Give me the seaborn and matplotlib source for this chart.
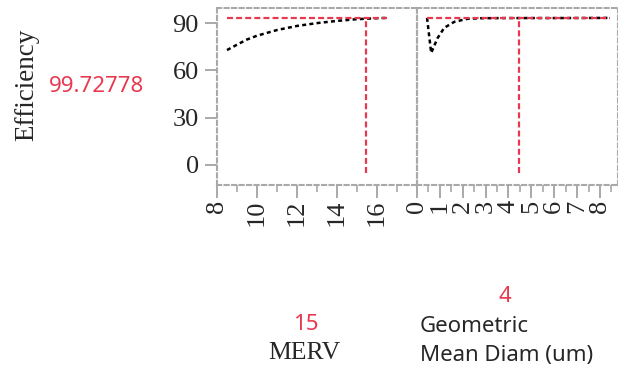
import matplotlib
matplotlib.use("Agg")
import matplotlib.pyplot as plt
from matplotlib.ticker import MultipleLocator
import seaborn as sns
import numpy as np

# ---- data ----
merv = [8.5, 9.0, 9.5, 10.0, 11.0, 12.0, 13.0, 14.0, 15.0, 16.0, 16.5]
eff_merv = [72.9, 76.3, 79.6, 82.0, 85.6, 88.2, 90.0, 91.4, 92.5, 93.1, 93.3]

diam = [0.44, 0.62, 0.9, 1.19, 1.63, 2.2, 2.8, 4.0, 6.0, 8.44]
eff_diam = [93.3, 71.1, 80.5, 87.0, 90.8, 92.7, 93.1, 93.2, 93.2, 93.3]

merv_ticks = [8, 10, 12, 14, 16]
diam_ticks = [0, 1, 2, 3, 4, 5, 6, 7, 8]
eff_ticks = [0, 30, 60, 90]

current_merv = 15.46
current_diam = 4.44
predicted_line = 93.2
ref_low = -5.0

label_pred = "99.72778"
label_merv = "15"
label_diam = "4"

RED = "#E8384F"
GREY = "#A9A9A9"
SERIF = "Liberation Serif"
SANS = "Noto Sans"

sns.set_style("white")
plt.rcParams["font.family"] = [SERIF, "DejaVu Sans"]

W, H = 618, 371
fig = plt.figure(figsize=(W / 100, H / 100), dpi=100)

top_px, bot_px = 7.5, 184.5
ax1 = fig.add_axes([217 / W, 1 - bot_px / H, 200 / W, (bot_px - top_px) / H])
ax2 = fig.add_axes([417 / W, 1 - bot_px / H, 201 / W, (bot_px - top_px) / H])

dash_curve = (0, (1.6, 1.3))
dash_red = (0, (2.7, 1.4))

for ax, xs, ys, cur in [(ax1, merv, eff_merv, current_merv), (ax2, diam, eff_diam, current_diam)]:
    sns.lineplot(x=xs, y=ys, ax=ax, color="black", linewidth=1.8, linestyle=dash_curve)
    ax.plot([min(xs), max(xs)], [predicted_line, predicted_line], color=RED,
            linewidth=1.6, linestyle=dash_red)
    ax.plot([cur, cur], [ref_low, predicted_line], color=RED,
            linewidth=1.6, linestyle=dash_red)
    ax.set_ylim(-12.4, 99.9)
    ax.set_xlabel("")
    ax.set_ylabel("")
    for s in ax.spines.values():
        s.set_visible(True)
        s.set_color(GREY)
        s.set_linewidth(1.5)
        s.set_linestyle((0, (2.0, 1.6)))
    ax.set_facecolor("none")

ax1.set_xlim(8, 18)
ax1.set_xticks(merv_ticks)
ax1.xaxis.set_minor_locator(MultipleLocator(1))
ax2.set_xlim(0, 8.79)
ax2.set_xticks(diam_ticks)
ax2.xaxis.set_minor_locator(MultipleLocator(0.5))

ax1.set_yticks(eff_ticks)
ax1.set_yticklabels([str(v) for v in eff_ticks], fontsize=19, family=SERIF)
ax2.set_yticks(eff_ticks)
ax2.set_yticklabels([])
ax2.tick_params(axis="y", left=False, length=0)

ax1.tick_params(axis="y", left=True, length=9, width=1.4, color=GREY, pad=4)
for ax, tk in [(ax1, merv_ticks), (ax2, diam_ticks)]:
    ax.set_xticklabels([str(v) for v in tk], rotation=90, fontsize=19, family=SERIF)
    ax.tick_params(axis="x", which="major", bottom=True, length=9, width=1.4, color=GREY, pad=2)
    ax.tick_params(axis="x", which="minor", bottom=True, length=5, width=1.2, color=GREY)

fig.text(27 / W, 1 - 85 / H, "Efficiency", rotation=90, ha="center", va="center",
         fontsize=19.5, family=SERIF)
fig.text(97 / W, 1 - 87 / H, label_pred, ha="center", va="center",
         fontsize=16, family=SANS, color=RED)
fig.text(306 / W, 1 - 325 / H, label_merv, ha="center", va="center",
         fontsize=16, family=SANS, color=RED)
fig.text(304 / W, 1 - 353 / H, "MERV", ha="center", va="center",
         fontsize=18.5, family=SERIF)
fig.text(505 / W, 1 - 297 / H, label_diam, ha="center", va="center",
         fontsize=16, family=SANS, color=RED)
fig.text(420 / W, 1 - 327 / H, "Geometric", ha="left", va="center",
         fontsize=16, family=SANS)
fig.text(420 / W, 1 - 355 / H, "Mean Diam (um)", ha="left", va="center",
         fontsize=16, family=SANS)

fig.savefig("out.png", dpi=100)
